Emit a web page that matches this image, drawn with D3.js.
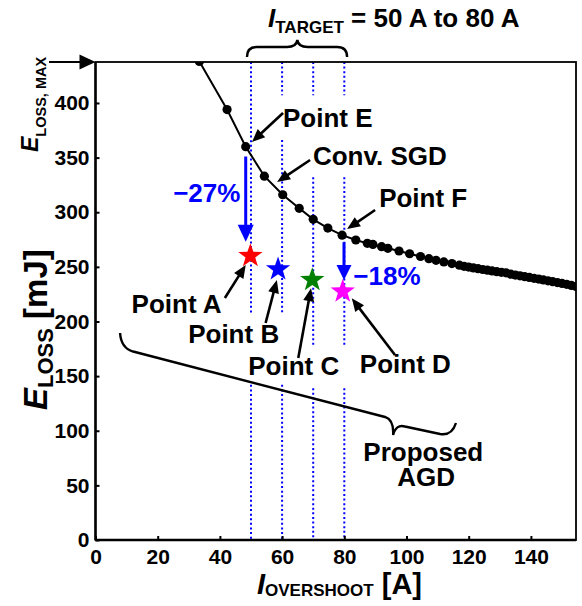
<!DOCTYPE html>
<html><head><meta charset="utf-8">
<script src="https://cdn.jsdelivr.net/npm/d3@7"></script>
<style>body{margin:0;background:#fff} text{font-family:"Liberation Sans",Arial,sans-serif;font-weight:bold}</style>
</head><body><svg id="c" width="582" height="606"></svg>
<script>
// ---- data ----
const sgdCurrent = [33.4, 42.3, 48.3, 54.3, 60.2, 65.5, 70, 74.7, 79.3, 83.7, 87.4, 89.2, 92, 94, 97.6, 101, 104.5, 107.2, 109.5, 112, 114.6, 117, 118.5, 120, 121.5, 123, 124.5, 126, 127.5, 129, 130.5, 132, 133.5, 135, 136.5, 138, 139.5, 141, 142.5, 144, 145.5, 147, 148.5, 150, 151.5, 153, 154.5];
const sgdLoss    = [438, 394, 360, 333, 316, 303.6, 293.5, 285.5, 279, 274.6, 271.5, 270.5, 268.5, 267, 264.5, 262, 259.5, 257.5, 256, 254.5, 253, 251.5, 250.5, 249.8, 249, 248.3, 247.6, 247, 246.3, 245.6, 245, 244.5, 243.3, 242.5, 241.8, 241, 240.3, 239.5, 238.8, 238, 237.2, 236.4, 235.6, 234.8, 234, 233, 232];
const agdLabels  = ["Point A", "Point B", "Point C", "Point D"];
const agdCurrent = [49.8, 58.7, 69.7, 79.5];
const agdLoss    = [260, 247.8, 238, 227.5];
const agdColors  = ["#ff0000", "#0000ff", "#008000", "#ff00ff"];
const targetCurrents = [50, 60, 70, 80];
const xTicks = [0, 20, 40, 60, 80, 100, 120, 140];
const yTicks = [0, 50, 100, 150, 200, 250, 300, 350, 400];
const eLossMax = 437.5;

// ---- layout ----
const svg = d3.select("#c");
const x = d3.scaleLinear().domain([0, 154.5]).range([95.5, 576]);
const y = d3.scaleLinear().domain([0, eLossMax]).range([540, 62]);
const X0 = x.range()[0], X1 = x.range()[1], Y0 = y.range()[0], Y1 = y.range()[1];
const BLUE = "#0000ff";

svg.append("defs").append("clipPath").attr("id", "clip")
  .append("rect").attr("x", X0).attr("y", Y1).attr("width", X1 - X0).attr("height", Y0 - Y1);

// dotted target lines (with gaps for labels)
const dottedSegs = {
  50: [[eLossMax, 206], [142, 0]],
  60: [[eLossMax, 407], [366, 206], [142, 0]],
  70: [[eLossMax, 407], [332, 178.5], [139, 0]],
  80: [[eLossMax, 407], [332, 178.5], [139, 0]]
};
targetCurrents.forEach(t => {
  dottedSegs[t].forEach(s => {
    svg.append("line").attr("x1", x(t)).attr("x2", x(t)).attr("y1", y(s[0])).attr("y2", y(s[1]))
      .attr("stroke", BLUE).attr("stroke-width", 2).attr("stroke-dasharray", "2,2.6");
  });
});

// axes
const xAxis = svg.append("g").attr("transform", `translate(0,${Y0})`)
  .call(d3.axisBottom(x).tickValues(xTicks).tickSizeInner(-4).tickSizeOuter(0).tickPadding(9));
const yAxis = svg.append("g").attr("transform", `translate(${X0},0)`)
  .call(d3.axisLeft(y).tickValues(yTicks).tickSizeInner(-4).tickSizeOuter(0).tickPadding(6));
[xAxis, yAxis].forEach(g => {
  g.select(".domain").remove();
  g.selectAll(".tick line").attr("stroke", "#000").attr("stroke-width", 2);
  g.selectAll("text").attr("font-size", 21).attr("font-family", "Liberation Sans, Arial, sans-serif").attr("font-weight", "bold").attr("fill", "#000");
});
// frame
svg.append("rect").attr("x", X0).attr("y", Y1).attr("width", X1 - X0).attr("height", Y0 - Y1)
  .attr("fill", "none").attr("stroke", "#000").attr("stroke-width", 1.8);
svg.append("line").attr("x1", X0).attr("x2", X1).attr("y1", Y0).attr("y2", Y0).attr("stroke", "#000").attr("stroke-width", 2.4);
svg.append("line").attr("x1", X0).attr("x2", X0).attr("y1", Y1).attr("y2", Y0).attr("stroke", "#000").attr("stroke-width", 2.4);

// SGD curve
const plot = svg.append("g").attr("clip-path", "url(#clip)");
const pts = sgdCurrent.map((c, i) => [c, sgdLoss[i]]);
plot.append("path").datum(pts)
  .attr("d", d3.line().x(d => x(d[0])).y(d => y(d[1])))
  .attr("fill", "none").attr("stroke", "#000").attr("stroke-width", 2);
plot.selectAll("circle.m").data(pts).join("circle").attr("class", "m")
  .attr("cx", d => x(d[0])).attr("cy", d => y(d[1])).attr("r", 4.6).attr("fill", "#000");

// arrows helper (coordinates in data units)
function arrow(t, h, color, lw, hl, hw) {
  const x1 = x(t[0]), y1 = y(t[1]), x2 = x(h[0]), y2 = y(h[1]);
  const dx = x2 - x1, dy = y2 - y1, L = Math.hypot(dx, dy), ux = dx / L, uy = dy / L;
  const bx = x2 - ux * hl, by = y2 - uy * hl;
  svg.append("line").attr("x1", x1).attr("y1", y1).attr("x2", bx + ux).attr("y2", by + uy)
    .attr("stroke", color).attr("stroke-width", lw);
  svg.append("path").attr("d", `M${x2},${y2}L${bx - uy * hw / 2},${by + ux * hw / 2}L${bx + uy * hw / 2},${by - ux * hw / 2}Z`)
    .attr("fill", color);
}

// blue reduction arrows
arrow([48.3, 351], [48.3, 273], BLUE, 3, 17, 16);
arrow([79.9, 272.5], [79.9, 238], BLUE, 3, 15, 15);

// stars
function starPath(cx, cy, R, r) {
  let p = [];
  for (let i = 0; i < 10; i++) {
    const a = -Math.PI / 2 + i * Math.PI / 5, rr = i % 2 ? r : R;
    p.push([cx + rr * Math.cos(a), cy + rr * Math.sin(a)]);
  }
  return "M" + p.map(q => q.join(",")).join("L") + "Z";
}
agdCurrent.forEach((c, i) => {
  svg.append("path").attr("d", starPath(x(c), y(agdLoss[i]), 12.8, 5.1)).attr("fill", agdColors[i]);
});

// black annotation arrows
const annArrows = [
  [[60.3, 390.8], [50.3, 364.3]],
  [[69, 347.8], [58.4, 327.7]],
  [[89.9, 302], [80.9, 284.6]],
  [[41.6, 221.5], [48.3, 251.7]],
  [[54.7, 198.6], [58.3, 238]],
  [[65.2, 166.6], [69.3, 230.4]],
  [[96.3, 169.3], [82.4, 221.2]]
];
annArrows.forEach(a => arrow(a[0], a[1], "#000", 2.6, 13, 11));

// labels
function label(txt, px, py, opts = {}) {
  svg.append("text").attr("x", x(px)).attr("y", y(py)).text(txt)
    .attr("font-size", opts.size || 26).attr("fill", opts.color || "#000")
    .attr("text-anchor", opts.anchor || "start");
}
label("Point E", 60.3, 378);
label("Conv. SGD", 69.9, 343.2);
label("Point F", 91.2, 305);
agdLabels.forEach((l, i) => {
  const pos = [[11.6, 207.5], [29.8, 180], [49.1, 151], [85, 152.6]][i];
  label(l, pos[0], pos[1]);
});
label("\u221227%", 46.6, 309.6, { color: BLUE, anchor: "end" });
label("\u221218%", 82.9, 233.4, { color: BLUE });
label("Proposed", 105.4, 72.3, { anchor: "middle" });
label("AGD", 106.3, 49.3, { anchor: "middle" });

// braces
const brace = d3.path();
const yo = v => Y1 + v;
brace.moveTo(x(48.7), yo(-5));
brace.quadraticCurveTo(x(48.7), yo(-15), x(51.9), yo(-15));
brace.lineTo(x(61.6), yo(-15));
brace.quadraticCurveTo(x(64.6), yo(-15), x(64.9), yo(-22));
brace.quadraticCurveTo(x(65.2), yo(-15), x(68.2), yo(-15));
brace.lineTo(x(77.7), yo(-15));
brace.quadraticCurveTo(x(80.9), yo(-15), x(80.9), yo(-5));
svg.append("path").attr("d", brace.toString()).attr("fill", "none").attr("stroke", "#000").attr("stroke-width", 2.4);

const b2 = d3.path();
b2.moveTo(x(7.9), y(189.5));
b2.quadraticCurveTo(x(8.2), y(175.7), x(12.1), y(172.5));
b2.lineTo(x(93.1), y(112.6));
b2.quadraticCurveTo(x(96), y(109.8), x(95.7), y(96.1));
b2.quadraticCurveTo(x(96.6), y(106.2), x(99.5), y(103.9));
b2.lineTo(x(110.8), y(97));
b2.quadraticCurveTo(x(114.6), y(95.2), x(115.9), y(107.1));
svg.append("path").attr("d", b2.toString()).attr("fill", "none").attr("stroke", "#000").attr("stroke-width", 2.4);

// title I_TARGET
const tt = svg.append("text").attr("x", 268).attr("y", 27).attr("font-size", 26);
tt.append("tspan").attr("font-style", "italic").text("I");
tt.append("tspan").attr("font-size", 17).attr("dy", 6).text("TARGET");
tt.append("tspan").attr("dy", -6).text(" = 50 A to 80 A");

// x axis label
const xl = svg.append("text").attr("x", 257).attr("y", 594).attr("font-size", 29);
xl.append("tspan").attr("font-style", "italic").text("I");
xl.append("tspan").attr("font-size", 17).attr("dy", 2).text("OVERSHOOT");
xl.append("tspan").attr("dy", -2).text(" [A]");

// y axis label
const yl = svg.append("text").attr("transform", "translate(47,410) rotate(-90)").attr("font-size", 33);
yl.append("tspan").attr("font-style", "italic").text("E");
yl.append("tspan").attr("font-size", 22).attr("dy", 6).text("LOSS");
yl.append("tspan").attr("dy", -6).text(" [mJ]");

// E_LOSS,MAX label and arrow
const ym = svg.append("text").attr("transform", "translate(38,152) rotate(-90)").attr("font-size", 23);
ym.append("tspan").attr("font-style", "italic").text("E");
ym.append("tspan").attr("font-size", 14.5).attr("dy", 8).text("LOSS, MAX");
svg.append("line").attr("x1", 49).attr("x2", 82).attr("y1", y(eLossMax)).attr("y2", y(eLossMax)).attr("stroke", "#000").attr("stroke-width", 2.2);
svg.append("path").attr("d", `M${X0},${y(eLossMax)}L${X0 - 16},${y(eLossMax) - 7.5}L${X0 - 16},${y(eLossMax) + 7.5}Z`).attr("fill", "#000");
</script></body></html>
